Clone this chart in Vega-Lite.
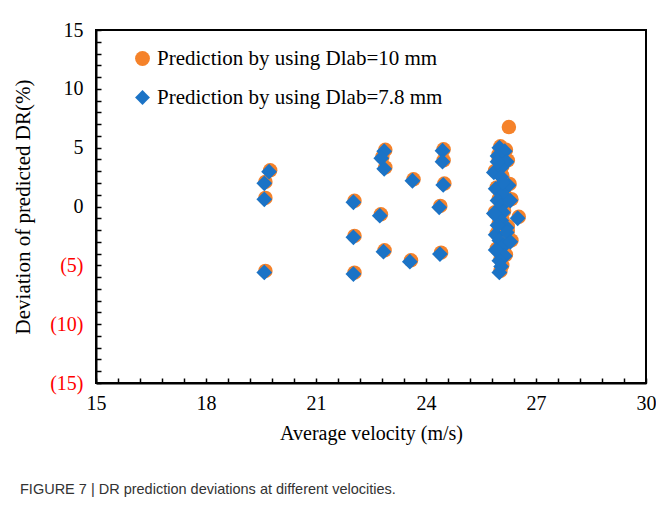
{
  "$schema": "https://vega.github.io/schema/vega-lite/v6.json",
  "autosize": {"type": "none"},
  "width": 550,
  "height": 353,
  "padding": {"left": 96, "top": 30, "right": 10, "bottom": 132},
  "background": "white",
  "config": {
    "view": {"stroke": "black", "strokeWidth": 2},
    "axis": {"grid": false, "domainColor": "black", "domainWidth": 2, "tickColor": "black", "tickWidth": 1.5, "tickSize": -5,
      "labelFont": "Liberation Serif", "labelFontSize": 20, "labelColor": "black", "labelOverlap": false, "labelFlush": false,
      "titleFont": "Liberation Serif", "titleFontSize": 20, "titleFontWeight": "normal", "titleColor": "black"}
  },
  "title": {"text": "FIGURE 7 | DR prediction deviations at different velocities.", "orient": "bottom", "anchor": "start", "frame": "group", "dx": -76, "offset": 40,
    "font": "Liberation Sans Narrow, Liberation Sans", "fontSize": 14.5, "fontWeight": "normal", "color": "#333333"},
  "datasets": {
    "pts": [
      {"v": 19.75, "d": 3.08, "s": "Prediction by using Dlab=10 mm"},
      {"v": 19.62, "d": 2.09, "s": "Prediction by using Dlab=10 mm"},
      {"v": 19.62, "d": 0.73, "s": "Prediction by using Dlab=10 mm"},
      {"v": 19.62, "d": -5.48, "s": "Prediction by using Dlab=10 mm"},
      {"v": 22.05, "d": 0.48, "s": "Prediction by using Dlab=10 mm"},
      {"v": 22.05, "d": -2.5, "s": "Prediction by using Dlab=10 mm"},
      {"v": 22.05, "d": -5.62, "s": "Prediction by using Dlab=10 mm"},
      {"v": 22.77, "d": -0.66, "s": "Prediction by using Dlab=10 mm"},
      {"v": 22.87, "d": -3.72, "s": "Prediction by using Dlab=10 mm"},
      {"v": 22.89, "d": 4.82, "s": "Prediction by using Dlab=10 mm"},
      {"v": 22.81, "d": 4.22, "s": "Prediction by using Dlab=10 mm"},
      {"v": 22.89, "d": 3.32, "s": "Prediction by using Dlab=10 mm"},
      {"v": 23.66, "d": 2.31, "s": "Prediction by using Dlab=10 mm"},
      {"v": 23.59, "d": -4.57, "s": "Prediction by using Dlab=10 mm"},
      {"v": 24.39, "d": 0.05, "s": "Prediction by using Dlab=10 mm"},
      {"v": 24.41, "d": -3.92, "s": "Prediction by using Dlab=10 mm"},
      {"v": 24.48, "d": 4.86, "s": "Prediction by using Dlab=10 mm"},
      {"v": 24.48, "d": 3.93, "s": "Prediction by using Dlab=10 mm"},
      {"v": 24.5, "d": 1.95, "s": "Prediction by using Dlab=10 mm"},
      {"v": 26.03, "d": 5.12, "s": "Prediction by using Dlab=10 mm"},
      {"v": 26.18, "d": 4.82, "s": "Prediction by using Dlab=10 mm"},
      {"v": 25.98, "d": 4.42, "s": "Prediction by using Dlab=10 mm"},
      {"v": 26.23, "d": 3.92, "s": "Prediction by using Dlab=10 mm"},
      {"v": 25.88, "d": 3.02, "s": "Prediction by using Dlab=10 mm"},
      {"v": 26.08, "d": 3.42, "s": "Prediction by using Dlab=10 mm"},
      {"v": 26.08, "d": 2.62, "s": "Prediction by using Dlab=10 mm"},
      {"v": 25.93, "d": 1.62, "s": "Prediction by using Dlab=10 mm"},
      {"v": 26.28, "d": 1.92, "s": "Prediction by using Dlab=10 mm"},
      {"v": 26.13, "d": 1.12, "s": "Prediction by using Dlab=10 mm"},
      {"v": 25.98, "d": 0.62, "s": "Prediction by using Dlab=10 mm"},
      {"v": 26.08, "d": 0.12, "s": "Prediction by using Dlab=10 mm"},
      {"v": 26.13, "d": -0.38, "s": "Prediction by using Dlab=10 mm"},
      {"v": 26.53, "d": -0.88, "s": "Prediction by using Dlab=10 mm"},
      {"v": 26.08, "d": -1.08, "s": "Prediction by using Dlab=10 mm"},
      {"v": 26.23, "d": -1.68, "s": "Prediction by using Dlab=10 mm"},
      {"v": 25.93, "d": -2.28, "s": "Prediction by using Dlab=10 mm"},
      {"v": 26.23, "d": -2.08, "s": "Prediction by using Dlab=10 mm"},
      {"v": 26.03, "d": -2.78, "s": "Prediction by using Dlab=10 mm"},
      {"v": 26.13, "d": -3.28, "s": "Prediction by using Dlab=10 mm"},
      {"v": 26.03, "d": -3.78, "s": "Prediction by using Dlab=10 mm"},
      {"v": 26.18, "d": -4.08, "s": "Prediction by using Dlab=10 mm"},
      {"v": 26.03, "d": -4.48, "s": "Prediction by using Dlab=10 mm"},
      {"v": 26.08, "d": -4.98, "s": "Prediction by using Dlab=10 mm"},
      {"v": 26.03, "d": -5.48, "s": "Prediction by using Dlab=10 mm"},
      {"v": 25.98, "d": 3.92, "s": "Prediction by using Dlab=10 mm"},
      {"v": 26.13, "d": 2.12, "s": "Prediction by using Dlab=10 mm"},
      {"v": 25.98, "d": -1.48, "s": "Prediction by using Dlab=10 mm"},
      {"v": 26.33, "d": 0.62, "s": "Prediction by using Dlab=10 mm"},
      {"v": 25.88, "d": -0.48, "s": "Prediction by using Dlab=10 mm"},
      {"v": 26.33, "d": -2.88, "s": "Prediction by using Dlab=10 mm"},
      {"v": 25.93, "d": -3.58, "s": "Prediction by using Dlab=10 mm"},
      {"v": 26.26, "d": 6.75, "s": "Prediction by using Dlab=10 mm"},

      {"v": 19.72, "d": 2.96, "s": "Prediction by using  Dlab=7.8 mm"},
      {"v": 19.59, "d": 1.97, "s": "Prediction by using  Dlab=7.8 mm"},
      {"v": 19.59, "d": 0.61, "s": "Prediction by using  Dlab=7.8 mm"},
      {"v": 19.59, "d": -5.6, "s": "Prediction by using  Dlab=7.8 mm"},
      {"v": 22.02, "d": 0.36, "s": "Prediction by using  Dlab=7.8 mm"},
      {"v": 22.02, "d": -2.62, "s": "Prediction by using  Dlab=7.8 mm"},
      {"v": 22.02, "d": -5.74, "s": "Prediction by using  Dlab=7.8 mm"},
      {"v": 22.74, "d": -0.78, "s": "Prediction by using  Dlab=7.8 mm"},
      {"v": 22.84, "d": -3.84, "s": "Prediction by using  Dlab=7.8 mm"},
      {"v": 22.86, "d": 4.7, "s": "Prediction by using  Dlab=7.8 mm"},
      {"v": 22.78, "d": 4.1, "s": "Prediction by using  Dlab=7.8 mm"},
      {"v": 22.86, "d": 3.2, "s": "Prediction by using  Dlab=7.8 mm"},
      {"v": 23.63, "d": 2.19, "s": "Prediction by using  Dlab=7.8 mm"},
      {"v": 23.56, "d": -4.69, "s": "Prediction by using  Dlab=7.8 mm"},
      {"v": 24.36, "d": -0.07, "s": "Prediction by using  Dlab=7.8 mm"},
      {"v": 24.38, "d": -4.04, "s": "Prediction by using  Dlab=7.8 mm"},
      {"v": 24.45, "d": 4.74, "s": "Prediction by using  Dlab=7.8 mm"},
      {"v": 24.45, "d": 3.81, "s": "Prediction by using  Dlab=7.8 mm"},
      {"v": 24.47, "d": 1.83, "s": "Prediction by using  Dlab=7.8 mm"},
      {"v": 26.0, "d": 5.0, "s": "Prediction by using  Dlab=7.8 mm"},
      {"v": 26.15, "d": 4.7, "s": "Prediction by using  Dlab=7.8 mm"},
      {"v": 25.95, "d": 4.3, "s": "Prediction by using  Dlab=7.8 mm"},
      {"v": 26.2, "d": 3.8, "s": "Prediction by using  Dlab=7.8 mm"},
      {"v": 25.85, "d": 2.9, "s": "Prediction by using  Dlab=7.8 mm"},
      {"v": 26.05, "d": 3.3, "s": "Prediction by using  Dlab=7.8 mm"},
      {"v": 26.05, "d": 2.5, "s": "Prediction by using  Dlab=7.8 mm"},
      {"v": 25.9, "d": 1.5, "s": "Prediction by using  Dlab=7.8 mm"},
      {"v": 26.25, "d": 1.8, "s": "Prediction by using  Dlab=7.8 mm"},
      {"v": 26.1, "d": 1.0, "s": "Prediction by using  Dlab=7.8 mm"},
      {"v": 25.95, "d": 0.5, "s": "Prediction by using  Dlab=7.8 mm"},
      {"v": 26.05, "d": 0.0, "s": "Prediction by using  Dlab=7.8 mm"},
      {"v": 26.1, "d": -0.5, "s": "Prediction by using  Dlab=7.8 mm"},
      {"v": 26.5, "d": -1.0, "s": "Prediction by using  Dlab=7.8 mm"},
      {"v": 26.05, "d": -1.2, "s": "Prediction by using  Dlab=7.8 mm"},
      {"v": 26.2, "d": -1.8, "s": "Prediction by using  Dlab=7.8 mm"},
      {"v": 25.9, "d": -2.4, "s": "Prediction by using  Dlab=7.8 mm"},
      {"v": 26.2, "d": -2.2, "s": "Prediction by using  Dlab=7.8 mm"},
      {"v": 26.0, "d": -2.9, "s": "Prediction by using  Dlab=7.8 mm"},
      {"v": 26.1, "d": -3.4, "s": "Prediction by using  Dlab=7.8 mm"},
      {"v": 26.0, "d": -3.9, "s": "Prediction by using  Dlab=7.8 mm"},
      {"v": 26.15, "d": -4.2, "s": "Prediction by using  Dlab=7.8 mm"},
      {"v": 26.0, "d": -4.6, "s": "Prediction by using  Dlab=7.8 mm"},
      {"v": 26.05, "d": -5.1, "s": "Prediction by using  Dlab=7.8 mm"},
      {"v": 26.0, "d": -5.6, "s": "Prediction by using  Dlab=7.8 mm"},
      {"v": 25.95, "d": 3.8, "s": "Prediction by using  Dlab=7.8 mm"},
      {"v": 26.1, "d": 2.0, "s": "Prediction by using  Dlab=7.8 mm"},
      {"v": 25.95, "d": -1.6, "s": "Prediction by using  Dlab=7.8 mm"},
      {"v": 26.3, "d": 0.5, "s": "Prediction by using  Dlab=7.8 mm"},
      {"v": 25.85, "d": -0.6, "s": "Prediction by using  Dlab=7.8 mm"},
      {"v": 26.3, "d": -3.0, "s": "Prediction by using  Dlab=7.8 mm"},
      {"v": 25.9, "d": -3.7, "s": "Prediction by using  Dlab=7.8 mm"}
    ]
  },
  "data": {"name": "pts"},
  "encoding": {
    "x": {"field": "v", "type": "quantitative", "scale": {"domain": [15, 30], "nice": false, "zero": false},
      "axis": {"title": "Average velocity (m/s)", "titlePadding": 10, "labelPadding": 15,
        "values": [15, 15.6, 16.2, 16.8, 17.4, 18, 18.6, 19.2, 19.8, 20.4, 21, 21.6, 22.2, 22.8, 23.4, 24, 24.6, 25.2, 25.8, 26.4, 27, 27.6, 28.2, 28.8, 29.4, 30],
        "labelExpr": "indexof([15, 18, 21, 24, 27, 30], datum.value) >= 0 ? format(datum.value, 'd') : ''"}},
    "y": {"field": "d", "type": "quantitative", "scale": {"domain": [-15, 15], "nice": false, "zero": false},
      "axis": {"title": "Deviation  of predicted DR(%)", "titleFontSize": 21, "titlePadding": 16, "labelPadding": 18,
        "values": [-15, -14, -13, -12, -11, -10, -9, -8, -7, -6, -5, -4, -3, -2, -1, 0, 1, 2, 3, 4, 5, 6, 7, 8, 9, 10, 11, 12, 13, 14, 15],
        "labelExpr": "datum.value % 5 != 0 ? '' : (datum.value < 0 ? '(' + (-datum.value) + ')' : datum.label)",
        "labelColor": {"condition": {"test": "datum.value < 0", "value": "#FF0000"}, "value": "black"}}},
    "color": {"field": "s", "type": "nominal",
      "scale": {"domain": ["Prediction by using Dlab=10 mm", "Prediction by using  Dlab=7.8 mm"], "range": ["#F5822A", "#1B73C6"]},
      "legend": {"title": null, "orient": "none", "legendX": 36, "legendY": 18, "labelFont": "Liberation Serif", "labelFontSize": 21,
        "labelColor": "black", "symbolSize": 220, "rowPadding": 17, "labelOffset": 4, "labelLimit": 500, "symbolStrokeWidth": 0}},
    "shape": {"field": "s", "type": "nominal",
      "scale": {"domain": ["Prediction by using Dlab=10 mm", "Prediction by using  Dlab=7.8 mm"], "range": ["circle", "diamond"]}, "legend": null}
  },
  "layer": [
    {"transform": [{"filter": "datum.s == 'Prediction by using Dlab=10 mm'"}], "mark": {"type": "point", "filled": true, "opacity": 1, "size": 210}},
    {"transform": [{"filter": "datum.s != 'Prediction by using Dlab=10 mm'"}], "mark": {"type": "point", "filled": true, "opacity": 1, "size": 250}}
  ]
}
